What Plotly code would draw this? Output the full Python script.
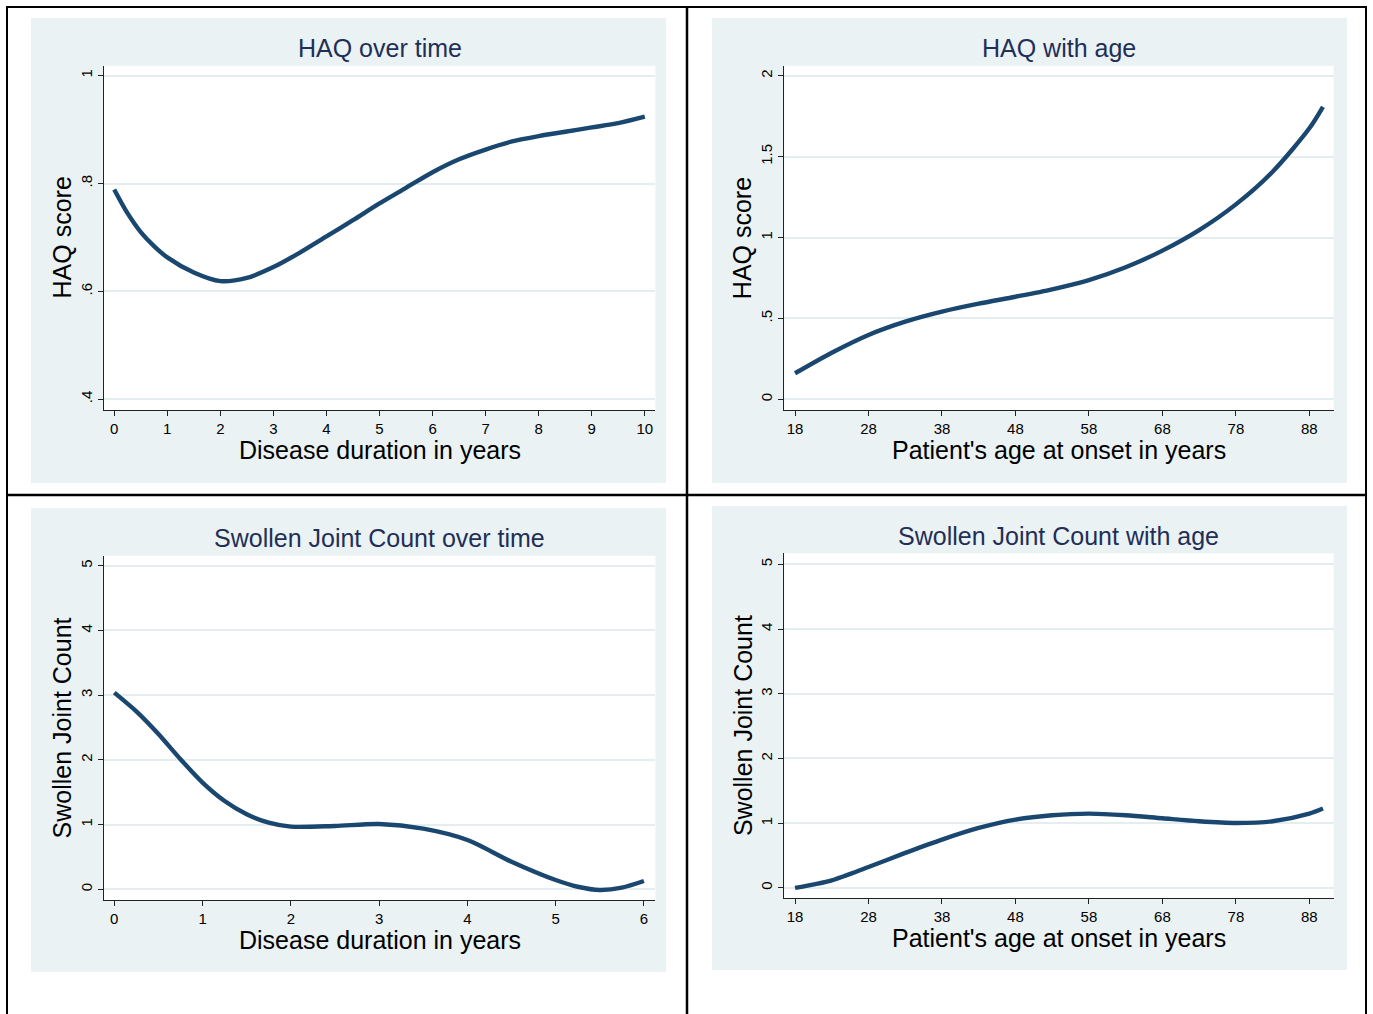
import plotly.graph_objects as go

# ---------------- data ----------------
haq_time_x = [0, 0.25, 0.5, 0.75, 1, 1.5, 2, 2.5, 3, 3.5, 4, 4.5, 5, 5.5, 6, 6.5, 7, 7.5, 8, 8.5, 9, 9.5, 10]
haq_time_y = [0.789, 0.745, 0.710, 0.684, 0.663, 0.635, 0.619, 0.625, 0.645, 0.672, 0.702, 0.732, 0.763,
              0.792, 0.821, 0.845, 0.863, 0.878, 0.888, 0.896, 0.904, 0.912, 0.924]

haq_age_x = [18, 23, 28, 33, 38, 43, 48, 53, 58, 63, 68, 73, 78, 83, 88, 89.85]
haq_age_y = [0.161, 0.288, 0.398, 0.480, 0.542, 0.591, 0.634, 0.680, 0.737, 0.816,
             0.919, 1.046, 1.205, 1.407, 1.675, 1.808]

sjc_time_x = [0, 0.25, 0.5, 0.75, 1, 1.25, 1.5, 1.75, 2, 2.5, 3, 3.5, 4, 4.5, 5, 5.25, 5.5, 5.75, 6]
sjc_time_y = [3.04, 2.75, 2.40, 2.01, 1.65, 1.365, 1.16, 1.03, 0.968, 0.979, 1.009, 0.937,
              0.762, 0.427, 0.144, 0.04, -0.01, 0.026, 0.129]

sjc_age_x = [18, 23, 28, 33, 38, 43, 48, 53, 58, 63, 68, 73, 78, 83, 88, 89.85]
sjc_age_y = [0.0, 0.118, 0.324, 0.541, 0.747, 0.927, 1.056, 1.123, 1.148, 1.123, 1.076,
             1.030, 1.004, 1.030, 1.148, 1.226]

titles = ["HAQ over time", "HAQ with age", "Swollen Joint Count over time", "Swollen Joint Count with age"]
xtitles = ["Disease duration in years", "Patient's age at onset in years",
           "Disease duration in years", "Patient's age at onset in years"]
ytitles = ["HAQ score", "HAQ score", "Swollen Joint Count", "Swollen Joint Count"]

time_ticks_10 = list(range(0, 11))
time_ticks_6 = list(range(0, 7))
age_ticks = [18, 28, 38, 48, 58, 68, 78, 88]
haq_time_yticks = [0.4, 0.6, 0.8, 1.0]
haq_time_ylabels = [".4", ".6", ".8", "1"]
haq_age_yticks = [0, 0.5, 1, 1.5, 2]
haq_age_ylabels = ["0", ".5", "1", "1.5", "2"]
sjc_yticks = [0, 1, 2, 3, 4, 5]
sjc_ylabels = ["0", "1", "2", "3", "4", "5"]

# ---------------- styling / layout ----------------
W, H = 1373, 1014
FONT = "Liberation Sans, Arial, sans-serif"
LINE = "#1a476f"
TITLE_C = "#1f2f57"
BG = "#eaf2f3"
GRID = "#e4edef"
AX = "#222222"

def px(x):
    return x / W

def py(y):
    return 1 - y / H

# plot areas in pixels (x0, x1, ytop, ybottom)
areas = [
    (103.6, 655.4, 65.7, 410.0),
    (784.3, 1333.6, 65.7, 410.0),
    (103.6, 655.4, 555.7, 900.0),
    (784.3, 1333.6, 553.3, 898.3),
]
# panel background rectangles in pixels
panels = [
    (31, 666, 18, 483),
    (712, 1347, 18, 483),
    (31, 666, 508, 972),
    (712, 1347, 506, 970),
]
xranges = [[-0.2, 10.2], [16.54, 91.3], [-0.121, 6.13], [16.54, 91.3]]
yranges = [[0.380, 1.0185], [-0.066, 2.062], [-0.165, 5.155], [-0.16, 5.17]]
xticks = [time_ticks_10, age_ticks, time_ticks_6, age_ticks]
yticks = [(haq_time_yticks, haq_time_ylabels), (haq_age_yticks, haq_age_ylabels),
          (sjc_yticks, sjc_ylabels), (sjc_yticks, sjc_ylabels)]
series = [(haq_time_x, haq_time_y), (haq_age_x, haq_age_y),
          (sjc_time_x, sjc_time_y), (sjc_age_x, sjc_age_y)]

fig = go.Figure()
layout = dict(
    width=W, height=H,
    margin=dict(l=0, r=0, t=0, b=0),
    paper_bgcolor="white",
    plot_bgcolor="rgba(0,0,0,0)",
    showlegend=False,
    font=dict(family=FONT, color="black"),
)
shapes = []
annotations = []

for i in range(4):
    n = "" if i == 0 else str(i + 1)
    x0, x1, yt, yb = areas[i]
    bx0, bx1, byt, byb = panels[i]
    shapes.append(dict(type="rect", xref="paper", yref="paper", layer="below",
                       x0=px(bx0), x1=px(bx1), y0=py(byb), y1=py(byt),
                       fillcolor=BG, line=dict(width=0)))
    shapes.append(dict(type="rect", xref="paper", yref="paper", layer="below",
                       x0=px(x0), x1=px(x1), y0=py(yb), y1=py(yt),
                       fillcolor="white", line=dict(width=0)))
    xs, ys = series[i]
    fig.add_trace(go.Scatter(x=xs, y=ys, mode="lines",
                             line=dict(color=LINE, width=4.4, shape="spline", smoothing=0.8),
                             xaxis="x" + n, yaxis="y" + n, hoverinfo="skip"))
    layout["xaxis" + n] = dict(
        domain=[px(x0), px(x1)], range=xranges[i], anchor="y" + n,
        tickvals=xticks[i], ticktext=[str(t) for t in xticks[i]],
        showgrid=False, zeroline=False, showline=True, linecolor=AX, linewidth=1,
        ticks="outside", ticklen=5, tickcolor=AX, tickwidth=1,
        tickfont=dict(size=15, family=FONT, color="black"), fixedrange=True,
    )
    tv, tt = yticks[i]
    layout["yaxis" + n] = dict(
        domain=[py(yb), py(yt)], range=yranges[i], anchor="x" + n,
        tickvals=tv, ticktext=tt, tickangle=-90,
        showgrid=True, gridcolor=GRID, gridwidth=1.5,
        zeroline=False, showline=True, linecolor=AX, linewidth=1,
        ticks="outside", ticklen=5, tickcolor=AX, tickwidth=1,
        tickfont=dict(size=15, family=FONT, color="black"), fixedrange=True,
    )
    cx = (x0 + x1) / 2
    annotations.append(dict(text=titles[i], xref="paper", yref="paper",
                            x=px(cx), y=py(byt + 30), xanchor="center", yanchor="middle",
                            showarrow=False, font=dict(size=25, family=FONT, color=TITLE_C)))
    annotations.append(dict(text=xtitles[i], xref="paper", yref="paper",
                            x=px(cx), y=py(yb + 40), xanchor="center", yanchor="middle",
                            showarrow=False, font=dict(size=25, family=FONT, color="black")))
    annotations.append(dict(text=ytitles[i], xref="paper", yref="paper",
                            x=px(x0 - 42), y=py((yt + yb) / 2), xanchor="center", yanchor="middle",
                            textangle=-90, showarrow=False,
                            font=dict(size=25, family=FONT, color="black")))

# outer frame and dividers
shapes.append(dict(type="rect", xref="paper", yref="paper", layer="above",
                   x0=px(7), x1=px(1366), y0=-0.02, y1=py(7),
                   line=dict(color="black", width=2), fillcolor="rgba(0,0,0,0)"))
shapes.append(dict(type="line", xref="paper", yref="paper", layer="above",
                   x0=px(687), x1=px(687), y0=-0.02, y1=py(7),
                   line=dict(color="black", width=2.5)))
shapes.append(dict(type="line", xref="paper", yref="paper", layer="above",
                   x0=px(7), x1=px(1366), y0=py(495), y1=py(495),
                   line=dict(color="black", width=2.5)))

layout["shapes"] = shapes
layout["annotations"] = annotations
fig.update_layout(**layout)
fig.write_html("out.html", config={"displayModeBar": False},
               post_script="document.body.style.margin='0';document.body.style.overflow='hidden';")
